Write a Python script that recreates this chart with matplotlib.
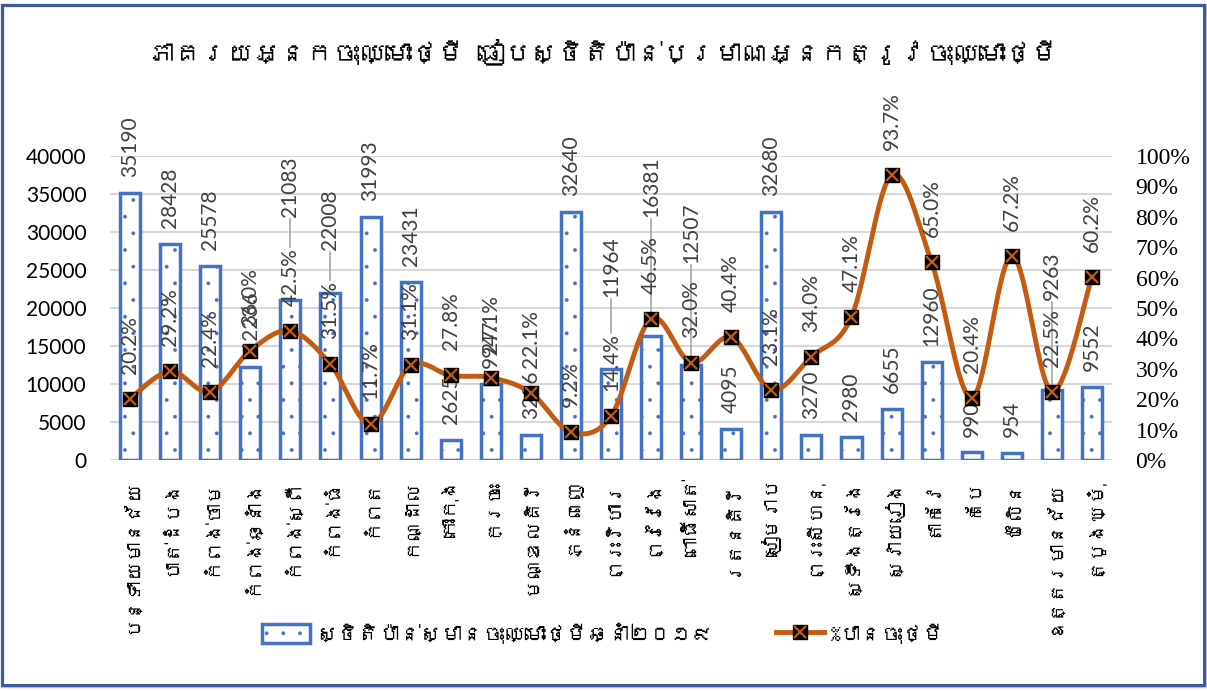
import numpy as np
import matplotlib
matplotlib.use("Agg")
import matplotlib.pyplot as plt
from matplotlib import font_manager as fm
from matplotlib.ft2font import FT2Font
from matplotlib.patches import Rectangle
from matplotlib.lines import Line2D
from matplotlib.legend_handler import HandlerTuple

# ---------------- data ----------------
provinces = ["បន្ទាយមានជ័យ", "បាត់ដំបង", "កំពង់ចាម", "កំពង់ឆ្នាំង", "កំពង់ស្ពឺ",
             "កំពង់ធំ", "កំពត", "កណ្ដាល", "កោះកុង", "ក្រចេះ", "មណ្ឌលគិរី",
             "ភ្នំពេញ", "ព្រះវិហារ", "ព្រៃវែង", "ពោធិ៍សាត់", "រតនគិរី", "សៀមរាប",
             "ព្រះសីហនុ", "ស្ទឹងត្រែង", "ស្វាយរៀង", "តាកែវ", "កែប", "ប៉ៃលិន",
             "ឧត្តរមានជ័យ", "ត្បូងឃ្មុំ"]
estimates = [35190, 28428, 25578, 12236, 21083, 22008, 31993, 23431, 2625, 9947,
             3236, 32640, 11964, 16381, 12507, 4095, 32680, 3270, 2980, 6655,
             12960, 990, 954, 9263, 9552]
pct_new = [0.202, 0.292, 0.224, 0.360, 0.425, 0.315, 0.117, 0.311, 0.278, 0.271,
           0.221, 0.092, 0.144, 0.465, 0.320, 0.404, 0.231, 0.340, 0.471, 0.937,
           0.650, 0.204, 0.672, 0.225, 0.602]
title_text = "ភាគរយអ្នកចុះឈ្មោះថ្មី ធៀបស្ថិតិប៉ាន់ប្រមាណអ្នកត្រូវចុះឈ្មោះថ្មី"
bar_series = "ស្ថិតិប៉ាន់ស្មានចុះឈ្មោះថ្មីឆ្នាំ២០១៩"
line_series = "%បានចុះថ្មី"
left_ticks = [0, 5000, 10000, 15000, 20000, 25000, 30000, 35000, 40000]
right_ticks = [0, .1, .2, .3, .4, .5, .6, .7, .8, .9, 1.0]

# layout: data labels that were dragged away, (label bottom, leader end) in left-axis units
moved_labels = {4: (31970, 28030), 5: (27630, 23680), 12: (21450, 16710),
                13: (31970, 18030), 14: (25920, 13160), 23: (21050, 9300)}

# ---------------- fonts ----------------
khmer = None
for f in fm.fontManager.ttflist:
    try:
        if 0x1780 in FT2Font(f.fname).get_charmap():
            khmer = f.name
            break
    except Exception:
        pass
kfam = ([khmer] if khmer else []) + ["DejaVu Sans"]
num_font = "Lato"
plt.rcParams["font.family"] = kfam
plt.rcParams["hatch.color"] = "#4472C4"
plt.rcParams["hatch.linewidth"] = 0.3

BLUE = "#4472C4"
ORANGE = "#C55A11"
GREY = "#404040"

fig = plt.figure(figsize=(12.07, 6.91), dpi=100)
W, H = 1207, 691
ax = fig.add_axes([110 / W, (H - 460) / H, (1112 - 110) / W, 304 / H])
ax2 = ax.twinx()

x = np.arange(len(provinces))
ax.bar(x, estimates, width=0.5, facecolor="white", edgecolor=BLUE,
       linewidth=2.5, hatch=".", zorder=2)
ax.set_ylim(0, 40000)
ax.set_xlim(-0.5, len(provinces) - 0.5)
ax.set_yticks(left_ticks)
ax.set_yticklabels([str(v) for v in left_ticks], fontfamily=num_font,
                   fontsize=15, color="black")
ax.yaxis.grid(True, color="#D9D9D9", linewidth=1.5, zorder=0)
ax.set_axisbelow(True)
ax.tick_params(axis="y", length=0, pad=17)
ax.set_xticks(x)
ax.set_xticklabels(provinces, rotation=90, fontsize=14, va="top", ha="center")
ax.tick_params(axis="x", length=0, pad=13)
for s in ax.spines.values():
    s.set_visible(False)
for s in ax2.spines.values():
    s.set_visible(False)

# smoothed line (Bezier through the points, Excel-style)
def smooth(xs, ys, n=24):
    P = np.column_stack([xs, ys]).astype(float)
    P = np.vstack([P[0], P, P[-1]])
    out = []
    t = np.linspace(0, 1, n, endpoint=False)[:, None]
    for i in range(1, len(P) - 2):
        p0, p1, p2, p3 = P[i - 1], P[i], P[i + 1], P[i + 2]
        c1 = p1 + (p2 - p0) / 6
        c2 = p2 - (p3 - p1) / 6
        out.append((1 - t) ** 3 * p1 + 3 * (1 - t) ** 2 * t * c1
                   + 3 * (1 - t) * t ** 2 * c2 + t ** 3 * p2)
    out.append(P[-2][None])
    return np.vstack(out)

curve = smooth(x, pct_new)
ax2.plot(curve[:, 0], curve[:, 1], color=ORANGE, linewidth=3.5, zorder=3,
         solid_capstyle="round")
ax2.plot(x, pct_new, linestyle="none", marker="s", markersize=10,
         markerfacecolor="black", markeredgecolor="black", zorder=4)
ax2.plot(x, pct_new, linestyle="none", marker="x", markersize=8,
         markeredgecolor=ORANGE, markeredgewidth=1.6, zorder=5)
ax2.set_ylim(0, 1.0)
ax2.set_yticks(right_ticks)
ax2.set_yticklabels([f"{int(round(v*100))}%" for v in right_ticks],
                    fontfamily="Liberation Serif", fontsize=17, color="black")
ax2.tick_params(axis="y", length=0, pad=17)

# bar value labels
for i, v in enumerate(estimates):
    if i in moved_labels:
        yb, ye = moved_labels[i]
        ax.text(i, yb, str(v), rotation=90, ha="center", va="bottom",
                fontfamily=num_font, fontsize=15, color=GREY, zorder=6)
        ax.plot([i, i], [yb - 200, ye], color="#A6A6A6", linewidth=1.2, zorder=1.5)
    else:
        ax.annotate(str(v), (i, v), xytext=(0, 11.5), textcoords="offset points",
                    rotation=90, ha="center", va="bottom", fontfamily=num_font,
                    fontsize=15, color=GREY, zorder=6)

# percentage labels
for i, p in enumerate(pct_new):
    ax2.annotate(f"{p*100:.1f}%", (i, p), xytext=(0, 18), textcoords="offset points",
                 rotation=90, ha="center", va="bottom", fontfamily=num_font,
                 fontsize=15, color=GREY, zorder=6)

# title
fig.text(603 / W, 1 - 52 / H, title_text, ha="center", va="center",
         fontsize=19, color="black")

# legend
bar_handle = Rectangle((0, 0), 1, 1, facecolor="white", edgecolor=BLUE,
                       linewidth=2.5, hatch=".")
line_h = Line2D([], [], color=ORANGE, linewidth=3.5)
sq_h = Line2D([], [], linestyle="none", marker="s", markersize=10,
              markerfacecolor="black", markeredgecolor="black")
x_h = Line2D([], [], linestyle="none", marker="x", markersize=8,
             markeredgecolor=ORANGE, markeredgewidth=1.6)
fig.legend([bar_handle, (line_h, sq_h, x_h)], [bar_series, line_series],
           handler_map={tuple: HandlerTuple(ndivide=1, pad=0)},
           loc="center", bbox_to_anchor=(0.5, 1 - 633 / H), ncol=2, frameon=False,
           fontsize=15, handlelength=2.3, handleheight=1.0, columnspacing=3.0,
           handletextpad=0.3)

# chart frame
fig.patches.append(Rectangle((2 / W, 5 / H), 1203 / W, 681 / H, transform=fig.transFigure,
                             fill=False, edgecolor="#BFBFBF", linewidth=2.5, zorder=0,
                             figure=fig))
fig.patches.append(Rectangle((2 / W, 6 / H), 1202 / W, 680 / H, transform=fig.transFigure,
                             fill=False, edgecolor="#3A5DA0", linewidth=2.2, zorder=1,
                             figure=fig))

fig.savefig("out.png", dpi=100)
